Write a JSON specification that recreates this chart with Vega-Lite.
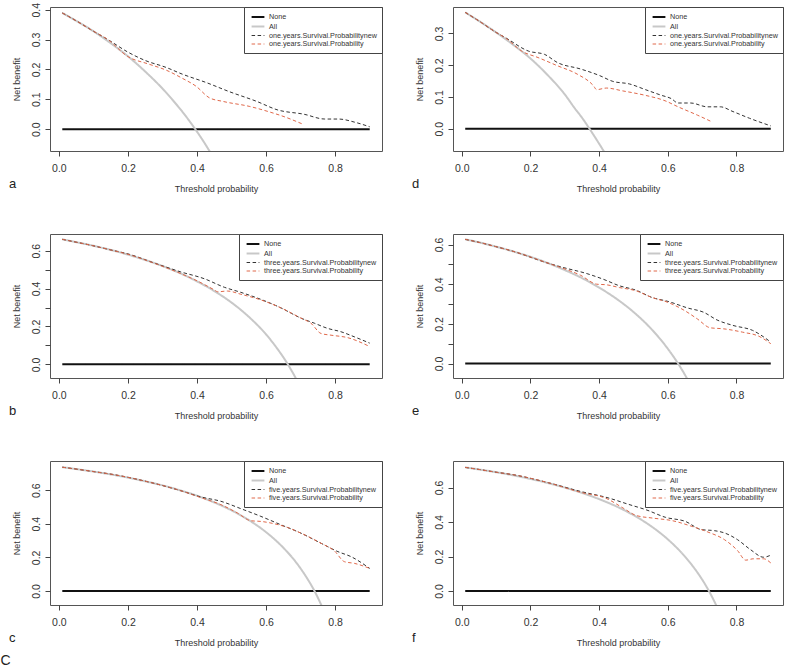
{
  "$schema": "https://vega.github.io/schema/vega-lite/v6.json",
  "background": "white",
  "padding": {"left": 0, "top": 1, "right": 2, "bottom": 2},
  "config": {
    "font": "Liberation Sans",
    "view": {"stroke": "#555", "strokeWidth": 1},
    "axis": {"domain": false, "grid": false, "tickColor": "#444", "tickSize": 5, "labelFont": "Liberation Sans", "labelFontSize": 10.5, "labelColor": "#333", "labelPadding": 4, "titleFont": "Liberation Sans", "titleFontSize": 9, "titleFontWeight": "normal", "titleColor": "#333"},
    "axisX": {"titlePadding": 11, "labelPadding": 7},
    "axisY": {"labelAngle": -90, "labelAlign": "center", "labelBaseline": "bottom", "titlePadding": 10},
    "legend": {"orient": "top-right", "offset": 0, "padding": 5, "strokeColor": "#444", "fillColor": "white", "labelFont": "Liberation Sans", "labelFontSize": 7.2, "labelColor": "#333", "labelOffset": 10, "labelLimit": 300, "rowPadding": 0.5, "symbolType": "M-0.6,0L2.6,0", "symbolSize": 64},
    "title": {"orient": "bottom", "anchor": "start", "frame": "bounds", "fontSize": 13, "fontWeight": "normal", "font": "Liberation Sans", "color": "#222", "offset": -16, "dx": -3}
  },
  "title": {"text": "C", "orient": "bottom", "anchor": "start", "frame": "bounds", "fontSize": 14, "fontWeight": "normal", "color": "#222", "offset": 6, "dx": -8},
  "datasets": {
    "dca": [
      {"panel": "a", "series": "None", "pt": 0.01, "nb": 0},
      {"panel": "a", "series": "None", "pt": 0.9, "nb": 0},
      {"panel": "a", "series": "All", "pt": 0.01, "nb": 0.389},
      {"panel": "a", "series": "All", "pt": 0.05, "nb": 0.363},
      {"panel": "a", "series": "All", "pt": 0.1, "nb": 0.328},
      {"panel": "a", "series": "All", "pt": 0.15, "nb": 0.288},
      {"panel": "a", "series": "All", "pt": 0.2, "nb": 0.244},
      {"panel": "a", "series": "All", "pt": 0.25, "nb": 0.193},
      {"panel": "a", "series": "All", "pt": 0.3, "nb": 0.136},
      {"panel": "a", "series": "All", "pt": 0.33, "nb": 0.097},
      {"panel": "a", "series": "All", "pt": 0.36, "nb": 0.055},
      {"panel": "a", "series": "All", "pt": 0.395, "nb": 0},
      {"panel": "a", "series": "All", "pt": 0.42, "nb": -0.043},
      {"panel": "a", "series": "All", "pt": 0.45, "nb": -0.1},
      {"panel": "a", "series": "one.years.Survival.Probabilitynew", "pt": 0.01, "nb": 0.389},
      {"panel": "a", "series": "one.years.Survival.Probabilitynew", "pt": 0.05, "nb": 0.363},
      {"panel": "a", "series": "one.years.Survival.Probabilitynew", "pt": 0.1, "nb": 0.328},
      {"panel": "a", "series": "one.years.Survival.Probabilitynew", "pt": 0.142, "nb": 0.3},
      {"panel": "a", "series": "one.years.Survival.Probabilitynew", "pt": 0.2, "nb": 0.258},
      {"panel": "a", "series": "one.years.Survival.Probabilitynew", "pt": 0.25, "nb": 0.23},
      {"panel": "a", "series": "one.years.Survival.Probabilitynew", "pt": 0.31, "nb": 0.207},
      {"panel": "a", "series": "one.years.Survival.Probabilitynew", "pt": 0.358, "nb": 0.184},
      {"panel": "a", "series": "one.years.Survival.Probabilitynew", "pt": 0.427, "nb": 0.156},
      {"panel": "a", "series": "one.years.Survival.Probabilitynew", "pt": 0.495, "nb": 0.125},
      {"panel": "a", "series": "one.years.Survival.Probabilitynew", "pt": 0.573, "nb": 0.093},
      {"panel": "a", "series": "one.years.Survival.Probabilitynew", "pt": 0.632, "nb": 0.065},
      {"panel": "a", "series": "one.years.Survival.Probabilitynew", "pt": 0.71, "nb": 0.05},
      {"panel": "a", "series": "one.years.Survival.Probabilitynew", "pt": 0.77, "nb": 0.034},
      {"panel": "a", "series": "one.years.Survival.Probabilitynew", "pt": 0.81, "nb": 0.034},
      {"panel": "a", "series": "one.years.Survival.Probabilitynew", "pt": 0.858, "nb": 0.023},
      {"panel": "a", "series": "one.years.Survival.Probabilitynew", "pt": 0.9, "nb": 0.008},
      {"panel": "a", "series": "one.years.Survival.Probability", "pt": 0.01, "nb": 0.389},
      {"panel": "a", "series": "one.years.Survival.Probability", "pt": 0.05, "nb": 0.363},
      {"panel": "a", "series": "one.years.Survival.Probability", "pt": 0.1, "nb": 0.328},
      {"panel": "a", "series": "one.years.Survival.Probability", "pt": 0.142, "nb": 0.3},
      {"panel": "a", "series": "one.years.Survival.Probability", "pt": 0.2, "nb": 0.243},
      {"panel": "a", "series": "one.years.Survival.Probability", "pt": 0.26, "nb": 0.218},
      {"panel": "a", "series": "one.years.Survival.Probability", "pt": 0.31, "nb": 0.198},
      {"panel": "a", "series": "one.years.Survival.Probability", "pt": 0.358, "nb": 0.17},
      {"panel": "a", "series": "one.years.Survival.Probability", "pt": 0.397, "nb": 0.144},
      {"panel": "a", "series": "one.years.Survival.Probability", "pt": 0.436, "nb": 0.105},
      {"panel": "a", "series": "one.years.Survival.Probability", "pt": 0.475, "nb": 0.093},
      {"panel": "a", "series": "one.years.Survival.Probability", "pt": 0.553, "nb": 0.076},
      {"panel": "a", "series": "one.years.Survival.Probability", "pt": 0.612, "nb": 0.057},
      {"panel": "a", "series": "one.years.Survival.Probability", "pt": 0.652, "nb": 0.042},
      {"panel": "a", "series": "one.years.Survival.Probability", "pt": 0.706, "nb": 0.017},

      {"panel": "d", "series": "None", "pt": 0.01, "nb": 0},
      {"panel": "d", "series": "None", "pt": 0.9, "nb": 0},
      {"panel": "d", "series": "All", "pt": 0.01, "nb": 0.366},
      {"panel": "d", "series": "All", "pt": 0.05, "nb": 0.339},
      {"panel": "d", "series": "All", "pt": 0.1, "nb": 0.303},
      {"panel": "d", "series": "All", "pt": 0.15, "nb": 0.264},
      {"panel": "d", "series": "All", "pt": 0.2, "nb": 0.221},
      {"panel": "d", "series": "All", "pt": 0.25, "nb": 0.169},
      {"panel": "d", "series": "All", "pt": 0.3, "nb": 0.108},
      {"panel": "d", "series": "All", "pt": 0.33, "nb": 0.063},
      {"panel": "d", "series": "All", "pt": 0.35, "nb": 0.035},
      {"panel": "d", "series": "All", "pt": 0.372, "nb": 0},
      {"panel": "d", "series": "All", "pt": 0.4, "nb": -0.047},
      {"panel": "d", "series": "All", "pt": 0.43, "nb": -0.1},
      {"panel": "d", "series": "one.years.Survival.Probabilitynew", "pt": 0.01, "nb": 0.366},
      {"panel": "d", "series": "one.years.Survival.Probabilitynew", "pt": 0.05, "nb": 0.339},
      {"panel": "d", "series": "one.years.Survival.Probabilitynew", "pt": 0.1, "nb": 0.303},
      {"panel": "d", "series": "one.years.Survival.Probabilitynew", "pt": 0.128, "nb": 0.286},
      {"panel": "d", "series": "one.years.Survival.Probabilitynew", "pt": 0.195, "nb": 0.244},
      {"panel": "d", "series": "one.years.Survival.Probabilitynew", "pt": 0.241, "nb": 0.234},
      {"panel": "d", "series": "one.years.Survival.Probabilitynew", "pt": 0.279, "nb": 0.208},
      {"panel": "d", "series": "one.years.Survival.Probabilitynew", "pt": 0.346, "nb": 0.188},
      {"panel": "d", "series": "one.years.Survival.Probabilitynew", "pt": 0.402, "nb": 0.167},
      {"panel": "d", "series": "one.years.Survival.Probabilitynew", "pt": 0.44, "nb": 0.149},
      {"panel": "d", "series": "one.years.Survival.Probabilitynew", "pt": 0.488, "nb": 0.141},
      {"panel": "d", "series": "one.years.Survival.Probabilitynew", "pt": 0.535, "nb": 0.123},
      {"panel": "d", "series": "one.years.Survival.Probabilitynew", "pt": 0.582, "nb": 0.105},
      {"panel": "d", "series": "one.years.Survival.Probabilitynew", "pt": 0.61, "nb": 0.095},
      {"panel": "d", "series": "one.years.Survival.Probabilitynew", "pt": 0.63, "nb": 0.081},
      {"panel": "d", "series": "one.years.Survival.Probabilitynew", "pt": 0.667, "nb": 0.081},
      {"panel": "d", "series": "one.years.Survival.Probabilitynew", "pt": 0.715, "nb": 0.069},
      {"panel": "d", "series": "one.years.Survival.Probabilitynew", "pt": 0.753, "nb": 0.069},
      {"panel": "d", "series": "one.years.Survival.Probabilitynew", "pt": 0.79, "nb": 0.054},
      {"panel": "d", "series": "one.years.Survival.Probabilitynew", "pt": 0.838, "nb": 0.033},
      {"panel": "d", "series": "one.years.Survival.Probabilitynew", "pt": 0.9, "nb": 0.009},
      {"panel": "d", "series": "one.years.Survival.Probability", "pt": 0.01, "nb": 0.366},
      {"panel": "d", "series": "one.years.Survival.Probability", "pt": 0.05, "nb": 0.339},
      {"panel": "d", "series": "one.years.Survival.Probability", "pt": 0.1, "nb": 0.303},
      {"panel": "d", "series": "one.years.Survival.Probability", "pt": 0.128, "nb": 0.285},
      {"panel": "d", "series": "one.years.Survival.Probability", "pt": 0.175, "nb": 0.244},
      {"panel": "d", "series": "one.years.Survival.Probability", "pt": 0.222, "nb": 0.224},
      {"panel": "d", "series": "one.years.Survival.Probability", "pt": 0.279, "nb": 0.198},
      {"panel": "d", "series": "one.years.Survival.Probability", "pt": 0.336, "nb": 0.172},
      {"panel": "d", "series": "one.years.Survival.Probability", "pt": 0.383, "nb": 0.136},
      {"panel": "d", "series": "one.years.Survival.Probability", "pt": 0.393, "nb": 0.123},
      {"panel": "d", "series": "one.years.Survival.Probability", "pt": 0.421, "nb": 0.128},
      {"panel": "d", "series": "one.years.Survival.Probability", "pt": 0.469, "nb": 0.119},
      {"panel": "d", "series": "one.years.Survival.Probability", "pt": 0.535, "nb": 0.105},
      {"panel": "d", "series": "one.years.Survival.Probability", "pt": 0.592, "nb": 0.088},
      {"panel": "d", "series": "one.years.Survival.Probability", "pt": 0.63, "nb": 0.069},
      {"panel": "d", "series": "one.years.Survival.Probability", "pt": 0.686, "nb": 0.043},
      {"panel": "d", "series": "one.years.Survival.Probability", "pt": 0.73, "nb": 0.021},

      {"panel": "b", "series": "None", "pt": 0.01, "nb": 0},
      {"panel": "b", "series": "None", "pt": 0.9, "nb": 0},
      {"panel": "b", "series": "All", "pt": 0.01, "nb": 0.66},
      {"panel": "b", "series": "All", "pt": 0.05, "nb": 0.645},
      {"panel": "b", "series": "All", "pt": 0.1, "nb": 0.626},
      {"panel": "b", "series": "All", "pt": 0.15, "nb": 0.604},
      {"panel": "b", "series": "All", "pt": 0.2, "nb": 0.579},
      {"panel": "b", "series": "All", "pt": 0.25, "nb": 0.551},
      {"panel": "b", "series": "All", "pt": 0.3, "nb": 0.519},
      {"panel": "b", "series": "All", "pt": 0.35, "nb": 0.482},
      {"panel": "b", "series": "All", "pt": 0.4, "nb": 0.438},
      {"panel": "b", "series": "All", "pt": 0.45, "nb": 0.387},
      {"panel": "b", "series": "All", "pt": 0.5, "nb": 0.326},
      {"panel": "b", "series": "All", "pt": 0.55, "nb": 0.251},
      {"panel": "b", "series": "All", "pt": 0.6, "nb": 0.158},
      {"panel": "b", "series": "All", "pt": 0.63, "nb": 0.089},
      {"panel": "b", "series": "All", "pt": 0.66, "nb": 0.009},
      {"panel": "b", "series": "All", "pt": 0.68, "nb": -0.053},
      {"panel": "b", "series": "All", "pt": 0.7, "nb": -0.123},
      {"panel": "b", "series": "three.years.Survival.Probabilitynew", "pt": 0.01, "nb": 0.66},
      {"panel": "b", "series": "three.years.Survival.Probabilitynew", "pt": 0.05, "nb": 0.645},
      {"panel": "b", "series": "three.years.Survival.Probabilitynew", "pt": 0.092, "nb": 0.629},
      {"panel": "b", "series": "three.years.Survival.Probabilitynew", "pt": 0.15, "nb": 0.604},
      {"panel": "b", "series": "three.years.Survival.Probabilitynew", "pt": 0.2, "nb": 0.583},
      {"panel": "b", "series": "three.years.Survival.Probabilitynew", "pt": 0.276, "nb": 0.535},
      {"panel": "b", "series": "three.years.Survival.Probabilitynew", "pt": 0.353, "nb": 0.488},
      {"panel": "b", "series": "three.years.Survival.Probabilitynew", "pt": 0.421, "nb": 0.452},
      {"panel": "b", "series": "three.years.Survival.Probabilitynew", "pt": 0.479, "nb": 0.407},
      {"panel": "b", "series": "three.years.Survival.Probabilitynew", "pt": 0.527, "nb": 0.38},
      {"panel": "b", "series": "three.years.Survival.Probabilitynew", "pt": 0.585, "nb": 0.343},
      {"panel": "b", "series": "three.years.Survival.Probabilitynew", "pt": 0.643, "nb": 0.298},
      {"panel": "b", "series": "three.years.Survival.Probabilitynew", "pt": 0.701, "nb": 0.244},
      {"panel": "b", "series": "three.years.Survival.Probabilitynew", "pt": 0.74, "nb": 0.217},
      {"panel": "b", "series": "three.years.Survival.Probabilitynew", "pt": 0.778, "nb": 0.19},
      {"panel": "b", "series": "three.years.Survival.Probabilitynew", "pt": 0.817, "nb": 0.172},
      {"panel": "b", "series": "three.years.Survival.Probabilitynew", "pt": 0.856, "nb": 0.145},
      {"panel": "b", "series": "three.years.Survival.Probabilitynew", "pt": 0.9, "nb": 0.112},
      {"panel": "b", "series": "three.years.Survival.Probability", "pt": 0.01, "nb": 0.66},
      {"panel": "b", "series": "three.years.Survival.Probability", "pt": 0.05, "nb": 0.645},
      {"panel": "b", "series": "three.years.Survival.Probability", "pt": 0.092, "nb": 0.629},
      {"panel": "b", "series": "three.years.Survival.Probability", "pt": 0.15, "nb": 0.604},
      {"panel": "b", "series": "three.years.Survival.Probability", "pt": 0.2, "nb": 0.581},
      {"panel": "b", "series": "three.years.Survival.Probability", "pt": 0.276, "nb": 0.534},
      {"panel": "b", "series": "three.years.Survival.Probability", "pt": 0.353, "nb": 0.479},
      {"panel": "b", "series": "three.years.Survival.Probability", "pt": 0.401, "nb": 0.44},
      {"panel": "b", "series": "three.years.Survival.Probability", "pt": 0.45, "nb": 0.393},
      {"panel": "b", "series": "three.years.Survival.Probability", "pt": 0.46, "nb": 0.383},
      {"panel": "b", "series": "three.years.Survival.Probability", "pt": 0.488, "nb": 0.387},
      {"panel": "b", "series": "three.years.Survival.Probability", "pt": 0.527, "nb": 0.37},
      {"panel": "b", "series": "three.years.Survival.Probability", "pt": 0.585, "nb": 0.34},
      {"panel": "b", "series": "three.years.Survival.Probability", "pt": 0.643, "nb": 0.298},
      {"panel": "b", "series": "three.years.Survival.Probability", "pt": 0.701, "nb": 0.244},
      {"panel": "b", "series": "three.years.Survival.Probability", "pt": 0.73, "nb": 0.217},
      {"panel": "b", "series": "three.years.Survival.Probability", "pt": 0.759, "nb": 0.163},
      {"panel": "b", "series": "three.years.Survival.Probability", "pt": 0.788, "nb": 0.154},
      {"panel": "b", "series": "three.years.Survival.Probability", "pt": 0.836, "nb": 0.141},
      {"panel": "b", "series": "three.years.Survival.Probability", "pt": 0.9, "nb": 0.094},

      {"panel": "e", "series": "None", "pt": 0.01, "nb": 0},
      {"panel": "e", "series": "None", "pt": 0.9, "nb": 0},
      {"panel": "e", "series": "All", "pt": 0.01, "nb": 0.626},
      {"panel": "e", "series": "All", "pt": 0.05, "nb": 0.611},
      {"panel": "e", "series": "All", "pt": 0.1, "nb": 0.589},
      {"panel": "e", "series": "All", "pt": 0.15, "nb": 0.565},
      {"panel": "e", "series": "All", "pt": 0.2, "nb": 0.538},
      {"panel": "e", "series": "All", "pt": 0.25, "nb": 0.507},
      {"panel": "e", "series": "All", "pt": 0.3, "nb": 0.471},
      {"panel": "e", "series": "All", "pt": 0.35, "nb": 0.431},
      {"panel": "e", "series": "All", "pt": 0.4, "nb": 0.383},
      {"panel": "e", "series": "All", "pt": 0.45, "nb": 0.327},
      {"panel": "e", "series": "All", "pt": 0.5, "nb": 0.26},
      {"panel": "e", "series": "All", "pt": 0.55, "nb": 0.178},
      {"panel": "e", "series": "All", "pt": 0.58, "nb": 0.119},
      {"panel": "e", "series": "All", "pt": 0.61, "nb": 0.051},
      {"panel": "e", "series": "All", "pt": 0.63, "nb": 0},
      {"panel": "e", "series": "All", "pt": 0.65, "nb": -0.057},
      {"panel": "e", "series": "All", "pt": 0.67, "nb": -0.121},
      {"panel": "e", "series": "three.years.Survival.Probabilitynew", "pt": 0.01, "nb": 0.626},
      {"panel": "e", "series": "three.years.Survival.Probabilitynew", "pt": 0.05, "nb": 0.611},
      {"panel": "e", "series": "three.years.Survival.Probabilitynew", "pt": 0.1, "nb": 0.589},
      {"panel": "e", "series": "three.years.Survival.Probabilitynew", "pt": 0.147, "nb": 0.567},
      {"panel": "e", "series": "three.years.Survival.Probabilitynew", "pt": 0.251, "nb": 0.506},
      {"panel": "e", "series": "three.years.Survival.Probabilitynew", "pt": 0.298, "nb": 0.483},
      {"panel": "e", "series": "three.years.Survival.Probabilitynew", "pt": 0.365, "nb": 0.453},
      {"panel": "e", "series": "three.years.Survival.Probabilitynew", "pt": 0.412, "nb": 0.425},
      {"panel": "e", "series": "three.years.Survival.Probabilitynew", "pt": 0.459, "nb": 0.392},
      {"panel": "e", "series": "three.years.Survival.Probabilitynew", "pt": 0.507, "nb": 0.37},
      {"panel": "e", "series": "three.years.Survival.Probabilitynew", "pt": 0.554, "nb": 0.333},
      {"panel": "e", "series": "three.years.Survival.Probabilitynew", "pt": 0.601, "nb": 0.313},
      {"panel": "e", "series": "three.years.Survival.Probabilitynew", "pt": 0.658, "nb": 0.28},
      {"panel": "e", "series": "three.years.Survival.Probabilitynew", "pt": 0.705, "nb": 0.258},
      {"panel": "e", "series": "three.years.Survival.Probabilitynew", "pt": 0.743, "nb": 0.22},
      {"panel": "e", "series": "three.years.Survival.Probabilitynew", "pt": 0.79, "nb": 0.192},
      {"panel": "e", "series": "three.years.Survival.Probabilitynew", "pt": 0.847, "nb": 0.167},
      {"panel": "e", "series": "three.years.Survival.Probabilitynew", "pt": 0.9, "nb": 0.108},
      {"panel": "e", "series": "three.years.Survival.Probability", "pt": 0.01, "nb": 0.626},
      {"panel": "e", "series": "three.years.Survival.Probability", "pt": 0.05, "nb": 0.611},
      {"panel": "e", "series": "three.years.Survival.Probability", "pt": 0.1, "nb": 0.589},
      {"panel": "e", "series": "three.years.Survival.Probability", "pt": 0.147, "nb": 0.567},
      {"panel": "e", "series": "three.years.Survival.Probability", "pt": 0.251, "nb": 0.506},
      {"panel": "e", "series": "three.years.Survival.Probability", "pt": 0.298, "nb": 0.478},
      {"panel": "e", "series": "three.years.Survival.Probability", "pt": 0.346, "nb": 0.445},
      {"panel": "e", "series": "three.years.Survival.Probability", "pt": 0.393, "nb": 0.4},
      {"panel": "e", "series": "three.years.Survival.Probability", "pt": 0.421, "nb": 0.397},
      {"panel": "e", "series": "three.years.Survival.Probability", "pt": 0.459, "nb": 0.383},
      {"panel": "e", "series": "three.years.Survival.Probability", "pt": 0.507, "nb": 0.367},
      {"panel": "e", "series": "three.years.Survival.Probability", "pt": 0.554, "nb": 0.333},
      {"panel": "e", "series": "three.years.Survival.Probability", "pt": 0.601, "nb": 0.308},
      {"panel": "e", "series": "three.years.Survival.Probability", "pt": 0.649, "nb": 0.267},
      {"panel": "e", "series": "three.years.Survival.Probability", "pt": 0.686, "nb": 0.225},
      {"panel": "e", "series": "three.years.Survival.Probability", "pt": 0.724, "nb": 0.18},
      {"panel": "e", "series": "three.years.Survival.Probability", "pt": 0.762, "nb": 0.175},
      {"panel": "e", "series": "three.years.Survival.Probability", "pt": 0.818, "nb": 0.158},
      {"panel": "e", "series": "three.years.Survival.Probability", "pt": 0.866, "nb": 0.137},
      {"panel": "e", "series": "three.years.Survival.Probability", "pt": 0.9, "nb": 0.1},

      {"panel": "c", "series": "None", "pt": 0.01, "nb": 0},
      {"panel": "c", "series": "None", "pt": 0.9, "nb": 0},
      {"panel": "c", "series": "All", "pt": 0.01, "nb": 0.737},
      {"panel": "c", "series": "All", "pt": 0.05, "nb": 0.726},
      {"panel": "c", "series": "All", "pt": 0.1, "nb": 0.711},
      {"panel": "c", "series": "All", "pt": 0.15, "nb": 0.694},
      {"panel": "c", "series": "All", "pt": 0.2, "nb": 0.675},
      {"panel": "c", "series": "All", "pt": 0.25, "nb": 0.653},
      {"panel": "c", "series": "All", "pt": 0.3, "nb": 0.629},
      {"panel": "c", "series": "All", "pt": 0.35, "nb": 0.6},
      {"panel": "c", "series": "All", "pt": 0.4, "nb": 0.567},
      {"panel": "c", "series": "All", "pt": 0.45, "nb": 0.527},
      {"panel": "c", "series": "All", "pt": 0.5, "nb": 0.48},
      {"panel": "c", "series": "All", "pt": 0.55, "nb": 0.422},
      {"panel": "c", "series": "All", "pt": 0.6, "nb": 0.35},
      {"panel": "c", "series": "All", "pt": 0.65, "nb": 0.257},
      {"panel": "c", "series": "All", "pt": 0.68, "nb": 0.188},
      {"panel": "c", "series": "All", "pt": 0.71, "nb": 0.103},
      {"panel": "c", "series": "All", "pt": 0.74, "nb": 0},
      {"panel": "c", "series": "All", "pt": 0.77, "nb": -0.13},
      {"panel": "c", "series": "five.years.Survival.Probabilitynew", "pt": 0.01, "nb": 0.737},
      {"panel": "c", "series": "five.years.Survival.Probabilitynew", "pt": 0.05, "nb": 0.726},
      {"panel": "c", "series": "five.years.Survival.Probabilitynew", "pt": 0.1, "nb": 0.711},
      {"panel": "c", "series": "five.years.Survival.Probabilitynew", "pt": 0.15, "nb": 0.696},
      {"panel": "c", "series": "five.years.Survival.Probabilitynew", "pt": 0.256, "nb": 0.651},
      {"panel": "c", "series": "five.years.Survival.Probabilitynew", "pt": 0.353, "nb": 0.597},
      {"panel": "c", "series": "five.years.Survival.Probabilitynew", "pt": 0.411, "nb": 0.56},
      {"panel": "c", "series": "five.years.Survival.Probabilitynew", "pt": 0.469, "nb": 0.534},
      {"panel": "c", "series": "five.years.Survival.Probabilitynew", "pt": 0.527, "nb": 0.49},
      {"panel": "c", "series": "five.years.Survival.Probabilitynew", "pt": 0.585, "nb": 0.444},
      {"panel": "c", "series": "five.years.Survival.Probabilitynew", "pt": 0.643, "nb": 0.394},
      {"panel": "c", "series": "five.years.Survival.Probabilitynew", "pt": 0.701, "nb": 0.344},
      {"panel": "c", "series": "five.years.Survival.Probabilitynew", "pt": 0.759, "nb": 0.284},
      {"panel": "c", "series": "five.years.Survival.Probabilitynew", "pt": 0.808, "nb": 0.234},
      {"panel": "c", "series": "five.years.Survival.Probabilitynew", "pt": 0.846, "nb": 0.204},
      {"panel": "c", "series": "five.years.Survival.Probabilitynew", "pt": 0.9, "nb": 0.134},
      {"panel": "c", "series": "five.years.Survival.Probability", "pt": 0.01, "nb": 0.737},
      {"panel": "c", "series": "five.years.Survival.Probability", "pt": 0.05, "nb": 0.726},
      {"panel": "c", "series": "five.years.Survival.Probability", "pt": 0.1, "nb": 0.711},
      {"panel": "c", "series": "five.years.Survival.Probability", "pt": 0.15, "nb": 0.696},
      {"panel": "c", "series": "five.years.Survival.Probability", "pt": 0.256, "nb": 0.651},
      {"panel": "c", "series": "five.years.Survival.Probability", "pt": 0.353, "nb": 0.597},
      {"panel": "c", "series": "five.years.Survival.Probability", "pt": 0.411, "nb": 0.556},
      {"panel": "c", "series": "five.years.Survival.Probability", "pt": 0.469, "nb": 0.514},
      {"panel": "c", "series": "five.years.Survival.Probability", "pt": 0.517, "nb": 0.464},
      {"panel": "c", "series": "five.years.Survival.Probability", "pt": 0.556, "nb": 0.418},
      {"panel": "c", "series": "five.years.Survival.Probability", "pt": 0.585, "nb": 0.414},
      {"panel": "c", "series": "five.years.Survival.Probability", "pt": 0.624, "nb": 0.4},
      {"panel": "c", "series": "five.years.Survival.Probability", "pt": 0.662, "nb": 0.378},
      {"panel": "c", "series": "five.years.Survival.Probability", "pt": 0.701, "nb": 0.344},
      {"panel": "c", "series": "five.years.Survival.Probability", "pt": 0.759, "nb": 0.284},
      {"panel": "c", "series": "five.years.Survival.Probability", "pt": 0.798, "nb": 0.238},
      {"panel": "c", "series": "five.years.Survival.Probability", "pt": 0.827, "nb": 0.174},
      {"panel": "c", "series": "five.years.Survival.Probability", "pt": 0.856, "nb": 0.164},
      {"panel": "c", "series": "five.years.Survival.Probability", "pt": 0.9, "nb": 0.134},

      {"panel": "f", "series": "None", "pt": 0.01, "nb": 0},
      {"panel": "f", "series": "None", "pt": 0.9, "nb": 0},
      {"panel": "f", "series": "All", "pt": 0.01, "nb": 0.717},
      {"panel": "f", "series": "All", "pt": 0.05, "nb": 0.705},
      {"panel": "f", "series": "All", "pt": 0.1, "nb": 0.689},
      {"panel": "f", "series": "All", "pt": 0.15, "nb": 0.671},
      {"panel": "f", "series": "All", "pt": 0.2, "nb": 0.65},
      {"panel": "f", "series": "All", "pt": 0.25, "nb": 0.627},
      {"panel": "f", "series": "All", "pt": 0.3, "nb": 0.6},
      {"panel": "f", "series": "All", "pt": 0.35, "nb": 0.569},
      {"panel": "f", "series": "All", "pt": 0.4, "nb": 0.533},
      {"panel": "f", "series": "All", "pt": 0.45, "nb": 0.491},
      {"panel": "f", "series": "All", "pt": 0.5, "nb": 0.44},
      {"panel": "f", "series": "All", "pt": 0.55, "nb": 0.378},
      {"panel": "f", "series": "All", "pt": 0.6, "nb": 0.3},
      {"panel": "f", "series": "All", "pt": 0.65, "nb": 0.2},
      {"panel": "f", "series": "All", "pt": 0.68, "nb": 0.125},
      {"panel": "f", "series": "All", "pt": 0.7, "nb": 0.067},
      {"panel": "f", "series": "All", "pt": 0.72, "nb": 0},
      {"panel": "f", "series": "All", "pt": 0.75, "nb": -0.12},
      {"panel": "f", "series": "five.years.Survival.Probabilitynew", "pt": 0.01, "nb": 0.717},
      {"panel": "f", "series": "five.years.Survival.Probabilitynew", "pt": 0.05, "nb": 0.705},
      {"panel": "f", "series": "five.years.Survival.Probabilitynew", "pt": 0.1, "nb": 0.689},
      {"panel": "f", "series": "five.years.Survival.Probabilitynew", "pt": 0.157, "nb": 0.672},
      {"panel": "f", "series": "five.years.Survival.Probabilitynew", "pt": 0.252, "nb": 0.628},
      {"panel": "f", "series": "five.years.Survival.Probabilitynew", "pt": 0.347, "nb": 0.577},
      {"panel": "f", "series": "five.years.Survival.Probabilitynew", "pt": 0.423, "nb": 0.542},
      {"panel": "f", "series": "five.years.Survival.Probabilitynew", "pt": 0.49, "nb": 0.5},
      {"panel": "f", "series": "five.years.Survival.Probabilitynew", "pt": 0.537, "nb": 0.471},
      {"panel": "f", "series": "five.years.Survival.Probabilitynew", "pt": 0.594, "nb": 0.427},
      {"panel": "f", "series": "five.years.Survival.Probabilitynew", "pt": 0.651, "nb": 0.404},
      {"panel": "f", "series": "five.years.Survival.Probabilitynew", "pt": 0.698, "nb": 0.356},
      {"panel": "f", "series": "five.years.Survival.Probabilitynew", "pt": 0.736, "nb": 0.35},
      {"panel": "f", "series": "five.years.Survival.Probabilitynew", "pt": 0.765, "nb": 0.337},
      {"panel": "f", "series": "five.years.Survival.Probabilitynew", "pt": 0.803, "nb": 0.298},
      {"panel": "f", "series": "five.years.Survival.Probabilitynew", "pt": 0.841, "nb": 0.24},
      {"panel": "f", "series": "five.years.Survival.Probabilitynew", "pt": 0.879, "nb": 0.196},
      {"panel": "f", "series": "five.years.Survival.Probabilitynew", "pt": 0.9, "nb": 0.208},
      {"panel": "f", "series": "five.years.Survival.Probability", "pt": 0.01, "nb": 0.717},
      {"panel": "f", "series": "five.years.Survival.Probability", "pt": 0.05, "nb": 0.705},
      {"panel": "f", "series": "five.years.Survival.Probability", "pt": 0.1, "nb": 0.689},
      {"panel": "f", "series": "five.years.Survival.Probability", "pt": 0.157, "nb": 0.672},
      {"panel": "f", "series": "five.years.Survival.Probability", "pt": 0.252, "nb": 0.628},
      {"panel": "f", "series": "five.years.Survival.Probability", "pt": 0.347, "nb": 0.572},
      {"panel": "f", "series": "five.years.Survival.Probability", "pt": 0.423, "nb": 0.535},
      {"panel": "f", "series": "five.years.Survival.Probability", "pt": 0.47, "nb": 0.481},
      {"panel": "f", "series": "five.years.Survival.Probability", "pt": 0.508, "nb": 0.438},
      {"panel": "f", "series": "five.years.Survival.Probability", "pt": 0.556, "nb": 0.423},
      {"panel": "f", "series": "five.years.Survival.Probability", "pt": 0.613, "nb": 0.408},
      {"panel": "f", "series": "five.years.Survival.Probability", "pt": 0.67, "nb": 0.375},
      {"panel": "f", "series": "five.years.Survival.Probability", "pt": 0.717, "nb": 0.342},
      {"panel": "f", "series": "five.years.Survival.Probability", "pt": 0.765, "nb": 0.298},
      {"panel": "f", "series": "five.years.Survival.Probability", "pt": 0.803, "nb": 0.235},
      {"panel": "f", "series": "five.years.Survival.Probability", "pt": 0.827, "nb": 0.179},
      {"panel": "f", "series": "five.years.Survival.Probability", "pt": 0.85, "nb": 0.187},
      {"panel": "f", "series": "five.years.Survival.Probability", "pt": 0.879, "nb": 0.187},
      {"panel": "f", "series": "five.years.Survival.Probability", "pt": 0.9, "nb": 0.163}
    ]
  },
  "data": {"name": "dca"},
  "columns": 2,
  "spacing": {"row": 39, "column": 28},
  "resolve": {
    "scale": {"x": "independent", "y": "independent", "color": "independent", "strokeDash": "independent", "strokeWidth": "independent"},
    "legend": {"color": "independent", "strokeDash": "independent", "strokeWidth": "independent"}
  },
  "concat": [
    {
      "width": 332, "height": 144,
      "title": {"text": "a"},
      "transform": [{"filter": "datum.panel == 'a'"}],
      "mark": {"type": "line", "clip": true, "interpolate": "monotone"},
      "encoding": {
        "x": {"field": "pt", "type": "quantitative", "scale": {"domain": [-0.0256, 0.9356], "nice": false, "zero": false}, "axis": {"values": [0, 0.2, 0.4, 0.6, 0.8], "format": ".1f", "title": "Threshold probability"}},
        "y": {"field": "nb", "type": "quantitative", "scale": {"domain": [-0.073, 0.409], "nice": false, "zero": false}, "axis": {"values": [0, 0.1, 0.2, 0.3, 0.4], "format": ".1f", "title": "Net benefit"}},
        "color": {"field": "series", "type": "nominal", "scale": {"domain": ["None", "All", "one.years.Survival.Probabilitynew", "one.years.Survival.Probability"], "range": ["#111111", "#c8c8c8", "#333333", "#e0684a"]}, "legend": {"title": null}},
        "strokeDash": {"field": "series", "type": "nominal", "scale": {"domain": ["None", "All", "one.years.Survival.Probabilitynew", "one.years.Survival.Probability"], "range": [[1, 0], [1, 0], [3.5, 2.5], [3.5, 2.5]]}, "legend": {"title": null}},
        "strokeWidth": {"field": "series", "type": "nominal", "scale": {"type": "ordinal", "domain": ["None", "All", "one.years.Survival.Probabilitynew", "one.years.Survival.Probability"], "range": [2, 2, 1, 1]}, "legend": {"title": null}}
      }
    },
    {
      "width": 330, "height": 144,
      "title": {"text": "d"},
      "transform": [{"filter": "datum.panel == 'd'"}],
      "mark": {"type": "line", "clip": true, "interpolate": "monotone"},
      "encoding": {
        "x": {"field": "pt", "type": "quantitative", "scale": {"domain": [-0.0256, 0.9356], "nice": false, "zero": false}, "axis": {"values": [0, 0.2, 0.4, 0.6, 0.8], "format": ".1f", "title": "Threshold probability"}},
        "y": {"field": "nb", "type": "quantitative", "scale": {"domain": [-0.07, 0.383], "nice": false, "zero": false}, "axis": {"values": [0, 0.1, 0.2, 0.3], "format": ".1f", "title": "Net benefit"}},
        "color": {"field": "series", "type": "nominal", "scale": {"domain": ["None", "All", "one.years.Survival.Probabilitynew", "one.years.Survival.Probability"], "range": ["#111111", "#c8c8c8", "#333333", "#e0684a"]}, "legend": {"title": null}},
        "strokeDash": {"field": "series", "type": "nominal", "scale": {"domain": ["None", "All", "one.years.Survival.Probabilitynew", "one.years.Survival.Probability"], "range": [[1, 0], [1, 0], [3.5, 2.5], [3.5, 2.5]]}, "legend": {"title": null}},
        "strokeWidth": {"field": "series", "type": "nominal", "scale": {"type": "ordinal", "domain": ["None", "All", "one.years.Survival.Probabilitynew", "one.years.Survival.Probability"], "range": [2, 2, 1, 1]}, "legend": {"title": null}}
      }
    },
    {
      "width": 332, "height": 144,
      "title": {"text": "b"},
      "transform": [{"filter": "datum.panel == 'b'"}],
      "mark": {"type": "line", "clip": true, "interpolate": "monotone"},
      "encoding": {
        "x": {"field": "pt", "type": "quantitative", "scale": {"domain": [-0.0256, 0.9356], "nice": false, "zero": false}, "axis": {"values": [0, 0.2, 0.4, 0.6, 0.8], "format": ".1f", "title": "Threshold probability"}},
        "y": {"field": "nb", "type": "quantitative", "scale": {"domain": [-0.072, 0.688], "nice": false, "zero": false}, "axis": {"values": [0, 0.1, 0.2, 0.3, 0.4, 0.5, 0.6], "format": ".1f", "labelExpr": "round(datum.value * 10) % 2 == 0 ? datum.label : ''", "title": "Net benefit"}},
        "color": {"field": "series", "type": "nominal", "scale": {"domain": ["None", "All", "three.years.Survival.Probabilitynew", "three.years.Survival.Probability"], "range": ["#111111", "#c8c8c8", "#333333", "#e0684a"]}, "legend": {"title": null}},
        "strokeDash": {"field": "series", "type": "nominal", "scale": {"domain": ["None", "All", "three.years.Survival.Probabilitynew", "three.years.Survival.Probability"], "range": [[1, 0], [1, 0], [3.5, 2.5], [3.5, 2.5]]}, "legend": {"title": null}},
        "strokeWidth": {"field": "series", "type": "nominal", "scale": {"type": "ordinal", "domain": ["None", "All", "three.years.Survival.Probabilitynew", "three.years.Survival.Probability"], "range": [2, 2, 1, 1]}, "legend": {"title": null}}
      }
    },
    {
      "width": 330, "height": 144,
      "title": {"text": "e"},
      "transform": [{"filter": "datum.panel == 'e'"}],
      "mark": {"type": "line", "clip": true, "interpolate": "monotone"},
      "encoding": {
        "x": {"field": "pt", "type": "quantitative", "scale": {"domain": [-0.0256, 0.9356], "nice": false, "zero": false}, "axis": {"values": [0, 0.2, 0.4, 0.6, 0.8], "format": ".1f", "title": "Threshold probability"}},
        "y": {"field": "nb", "type": "quantitative", "scale": {"domain": [-0.073, 0.653], "nice": false, "zero": false}, "axis": {"values": [0, 0.1, 0.2, 0.3, 0.4, 0.5, 0.6], "format": ".1f", "labelExpr": "round(datum.value * 10) % 2 == 0 ? datum.label : ''", "title": "Net benefit"}},
        "color": {"field": "series", "type": "nominal", "scale": {"domain": ["None", "All", "three.years.Survival.Probabilitynew", "three.years.Survival.Probability"], "range": ["#111111", "#c8c8c8", "#333333", "#e0684a"]}, "legend": {"title": null}},
        "strokeDash": {"field": "series", "type": "nominal", "scale": {"domain": ["None", "All", "three.years.Survival.Probabilitynew", "three.years.Survival.Probability"], "range": [[1, 0], [1, 0], [3.5, 2.5], [3.5, 2.5]]}, "legend": {"title": null}},
        "strokeWidth": {"field": "series", "type": "nominal", "scale": {"type": "ordinal", "domain": ["None", "All", "three.years.Survival.Probabilitynew", "three.years.Survival.Probability"], "range": [2, 2, 1, 1]}, "legend": {"title": null}}
      }
    },
    {
      "width": 332, "height": 144,
      "title": {"text": "c"},
      "transform": [{"filter": "datum.panel == 'c'"}],
      "mark": {"type": "line", "clip": true, "interpolate": "monotone"},
      "encoding": {
        "x": {"field": "pt", "type": "quantitative", "scale": {"domain": [-0.0256, 0.9356], "nice": false, "zero": false}, "axis": {"values": [0, 0.2, 0.4, 0.6, 0.8], "format": ".1f", "title": "Threshold probability"}},
        "y": {"field": "nb", "type": "quantitative", "scale": {"domain": [-0.084, 0.774], "nice": false, "zero": false}, "axis": {"values": [0, 0.2, 0.4, 0.6], "format": ".1f", "title": "Net benefit"}},
        "color": {"field": "series", "type": "nominal", "scale": {"domain": ["None", "All", "five.years.Survival.Probabilitynew", "five.years.Survival.Probability"], "range": ["#111111", "#c8c8c8", "#333333", "#e0684a"]}, "legend": {"title": null}},
        "strokeDash": {"field": "series", "type": "nominal", "scale": {"domain": ["None", "All", "five.years.Survival.Probabilitynew", "five.years.Survival.Probability"], "range": [[1, 0], [1, 0], [3.5, 2.5], [3.5, 2.5]]}, "legend": {"title": null}},
        "strokeWidth": {"field": "series", "type": "nominal", "scale": {"type": "ordinal", "domain": ["None", "All", "five.years.Survival.Probabilitynew", "five.years.Survival.Probability"], "range": [2, 2, 1, 1]}, "legend": {"title": null}}
      }
    },
    {
      "width": 330, "height": 144,
      "title": {"text": "f"},
      "transform": [{"filter": "datum.panel == 'f'"}],
      "mark": {"type": "line", "clip": true, "interpolate": "monotone"},
      "encoding": {
        "x": {"field": "pt", "type": "quantitative", "scale": {"domain": [-0.0256, 0.9356], "nice": false, "zero": false}, "axis": {"values": [0, 0.2, 0.4, 0.6, 0.8], "format": ".1f", "title": "Threshold probability"}},
        "y": {"field": "nb", "type": "quantitative", "scale": {"domain": [-0.081, 0.754], "nice": false, "zero": false}, "axis": {"values": [0, 0.2, 0.4, 0.6], "format": ".1f", "title": "Net benefit"}},
        "color": {"field": "series", "type": "nominal", "scale": {"domain": ["None", "All", "five.years.Survival.Probabilitynew", "five.years.Survival.Probability"], "range": ["#111111", "#c8c8c8", "#333333", "#e0684a"]}, "legend": {"title": null}},
        "strokeDash": {"field": "series", "type": "nominal", "scale": {"domain": ["None", "All", "five.years.Survival.Probabilitynew", "five.years.Survival.Probability"], "range": [[1, 0], [1, 0], [3.5, 2.5], [3.5, 2.5]]}, "legend": {"title": null}},
        "strokeWidth": {"field": "series", "type": "nominal", "scale": {"type": "ordinal", "domain": ["None", "All", "five.years.Survival.Probabilitynew", "five.years.Survival.Probability"], "range": [2, 2, 1, 1]}, "legend": {"title": null}}
      }
    }
  ]
}
